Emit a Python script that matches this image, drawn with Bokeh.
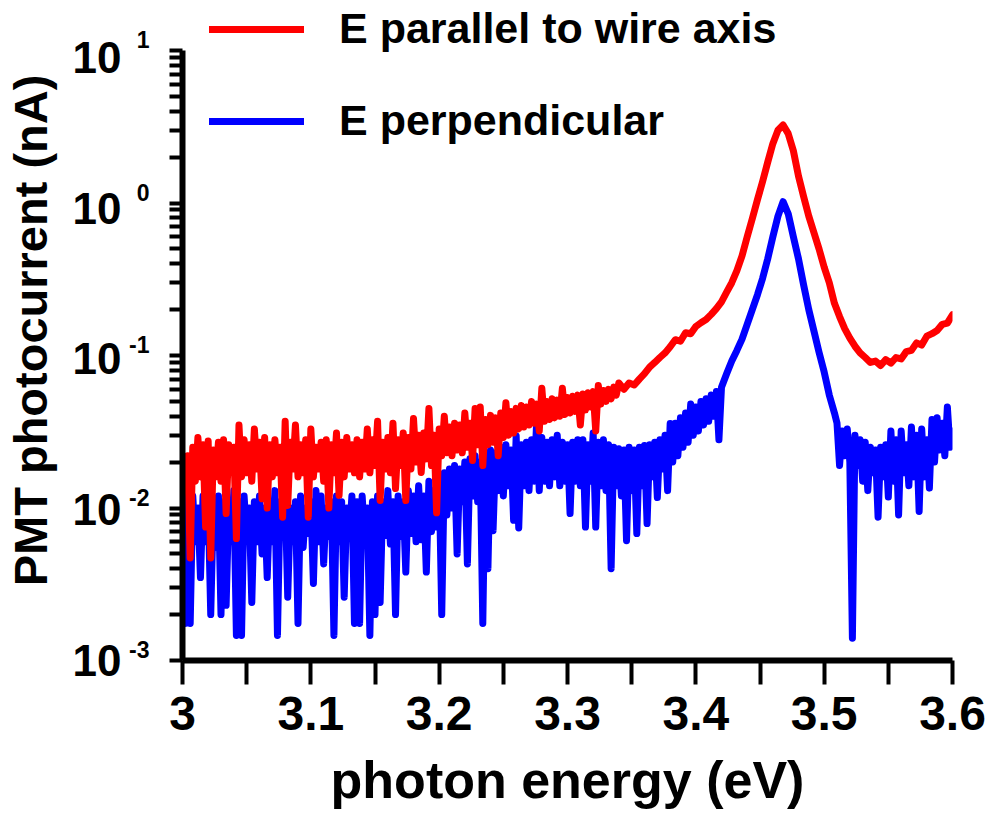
import numpy as np
from bokeh.plotting import figure
from bokeh.models import (Range1d, FixedTicker, CustomJSTickFormatter, Legend,
                          LegendItem, LogAxis, LogScale)
from bokeh.embed import file_html
from bokeh.resources import INLINE

# ---------------- data ----------------
# red: E parallel to wire axis
red_energy_a = np.round(3.0 + 0.002 * np.arange(171), 3)      # 3.000 .. 3.340
red_values_a = [
    0.016, 0.013, 0.022, 0.0047, 0.025, 0.015, 0.029, 0.016, 0.026, 0.0075,
    0.0275, 0.0047, 0.024, 0.016, 0.027, 0.015, 0.028, 0.0092, 0.026, 0.017,
    0.025, 0.0063, 0.035, 0.016, 0.028, 0.017, 0.026, 0.015, 0.033, 0.018,
    0.027, 0.0115, 0.029, 0.010, 0.026, 0.016, 0.028, 0.017, 0.025, 0.0087,
    0.037, 0.0104, 0.027, 0.018, 0.035, 0.016, 0.026, 0.017, 0.028, 0.0087,
    0.033, 0.016, 0.025, 0.018, 0.027, 0.015, 0.028, 0.010, 0.026, 0.017,
    0.031, 0.0121, 0.027, 0.016, 0.029, 0.018, 0.026, 0.017, 0.028, 0.016,
    0.027, 0.018, 0.033, 0.017, 0.028, 0.019, 0.037, 0.0112, 0.027, 0.018,
    0.029, 0.017, 0.036, 0.0134, 0.028, 0.019, 0.031, 0.0112, 0.029, 0.018,
    0.0386, 0.020, 0.030, 0.0171, 0.031, 0.021, 0.045, 0.019, 0.030, 0.0093,
    0.033, 0.022, 0.040, 0.023, 0.034, 0.022, 0.036, 0.024, 0.035, 0.023,
    0.042, 0.025, 0.036, 0.0205, 0.045, 0.026, 0.046, 0.019, 0.038, 0.026,
    0.0405, 0.027, 0.039, 0.022, 0.042, 0.029, 0.049, 0.030, 0.043, 0.031,
    0.045, 0.033, 0.047, 0.034, 0.046, 0.035, 0.050, 0.036, 0.048, 0.032,
    0.061, 0.037, 0.050, 0.038, 0.052, 0.039, 0.051, 0.040, 0.061, 0.041,
    0.053, 0.042, 0.054, 0.043, 0.055, 0.035, 0.056, 0.044, 0.057, 0.046,
    0.058, 0.032, 0.0636, 0.048, 0.059, 0.050, 0.060, 0.052, 0.062, 0.055,
    0.066,
]
red_energy_b = np.round(3.344 + 0.004 * np.arange(65), 3)     # 3.344 .. 3.600
red_values_b = [
    0.060, 0.066, 0.064, 0.070,
    0.076, 0.084, 0.090, 0.097, 0.104, 0.114, 0.127, 0.124, 0.141, 0.139,
    0.155, 0.164, 0.172, 0.186, 0.203, 0.225, 0.260, 0.300, 0.360, 0.450,
    0.60, 0.79, 1.05, 1.38, 1.85, 2.45, 3.0, 3.25, 2.85, 2.2,
    1.5, 1.1, 0.82, 0.64, 0.50, 0.38, 0.30, 0.22, 0.18, 0.15,
    0.13, 0.115, 0.104, 0.097, 0.090, 0.092, 0.086, 0.094, 0.089, 0.097,
    0.095, 0.106, 0.108, 0.121, 0.117, 0.134, 0.139, 0.146, 0.160, 0.163,
    0.185,
]

# blue: E perpendicular
blue_energy_a = np.round(3.0 + 0.002 * np.arange(211), 3)     # 3.000 .. 3.420
blue_values_a = [
    0.014, 0.00175, 0.011, 0.00175, 0.012, 0.006, 0.010, 0.0035, 0.012, 0.006,
    0.011, 0.002, 0.010, 0.0055, 0.012, 0.002, 0.011, 0.0023, 0.010, 0.006,
    0.013, 0.00146, 0.011, 0.00146, 0.012, 0.0065, 0.010, 0.0024, 0.011, 0.006,
    0.012, 0.005, 0.010, 0.0035, 0.011, 0.006, 0.013, 0.00146, 0.011, 0.0065,
    0.012, 0.0026, 0.010, 0.006, 0.011, 0.00175, 0.012, 0.0055, 0.010, 0.0068,
    0.011, 0.0032, 0.013, 0.006, 0.012, 0.0043, 0.010, 0.0065, 0.011, 0.00146,
    0.012, 0.006, 0.011, 0.0026, 0.010, 0.0065, 0.012, 0.00175, 0.011, 0.00175,
    0.012, 0.0062, 0.010, 0.00146, 0.011, 0.002, 0.012, 0.0024, 0.011, 0.0066,
    0.013, 0.0058, 0.011, 0.002, 0.012, 0.0065, 0.011, 0.0038, 0.013, 0.0068,
    0.012, 0.006, 0.014, 0.0062, 0.012, 0.0038, 0.015, 0.007, 0.013, 0.0075,
    0.016, 0.002, 0.017, 0.009, 0.018, 0.010, 0.019, 0.005, 0.018, 0.011,
    0.020, 0.0043, 0.021, 0.012, 0.022, 0.011, 0.020, 0.00175, 0.022, 0.004,
    0.024, 0.0071, 0.023, 0.013, 0.025, 0.012, 0.026, 0.014, 0.024, 0.0083,
    0.0298, 0.0074, 0.026, 0.014, 0.027, 0.013, 0.028, 0.015, 0.0375, 0.013,
    0.029, 0.015, 0.027, 0.014, 0.028, 0.016, 0.030, 0.014, 0.027, 0.015,
    0.026, 0.0092, 0.027, 0.015, 0.028, 0.014, 0.028, 0.0075, 0.026, 0.015,
    0.031, 0.0075, 0.027, 0.014, 0.028, 0.013, 0.026, 0.004, 0.025, 0.014,
    0.0245, 0.012, 0.024, 0.0061, 0.025, 0.013, 0.024, 0.0068, 0.025, 0.014,
    0.0257, 0.0079, 0.026, 0.016, 0.027, 0.0117, 0.028, 0.018, 0.030, 0.013,
    0.0358, 0.020, 0.036, 0.022, 0.039, 0.025, 0.042, 0.027, 0.048, 0.030,
    0.046, 0.032, 0.050, 0.035, 0.052, 0.037, 0.055, 0.040, 0.058, 0.028,
    0.062,
]
blue_energy_b = np.round(3.424 + 0.004 * np.arange(22), 3)    # 3.424 .. 3.508
blue_values_b = [
    0.076, 0.092, 0.108, 0.128,
    0.16, 0.20, 0.25, 0.32, 0.43, 0.60, 0.82, 1.02, 0.85, 0.60,
    0.43, 0.29, 0.20, 0.145, 0.105, 0.078, 0.055, 0.042,
]
blue_energy_c = np.round(3.51 + 0.002 * np.arange(46), 3)     # 3.510 .. 3.600
blue_values_c = [
    0.036, 0.019, 0.032, 0.022, 0.033, 0.020, 0.0014, 0.030, 0.019, 0.028,
    0.015, 0.027, 0.013, 0.025, 0.017, 0.024, 0.0087, 0.025, 0.016, 0.026,
    0.0118, 0.032, 0.015, 0.028, 0.009, 0.032, 0.017, 0.026, 0.014, 0.034,
    0.016, 0.030, 0.0095, 0.033, 0.016, 0.028, 0.0135, 0.038, 0.020, 0.039,
    0.024, 0.036, 0.022, 0.046, 0.025, 0.032,
]

red_energy = np.concatenate([red_energy_a, red_energy_b])
red_parallel = red_values_a + red_values_b
blue_energy = np.concatenate([blue_energy_a, blue_energy_b, blue_energy_c])
blue_perpendicular = blue_values_a + blue_values_b + blue_values_c

series_labels = ["E parallel to wire axis", "E perpendicular"]
x_major_ticks = [3.0, 3.1, 3.2, 3.3, 3.4, 3.5, 3.6]
x_minor_ticks = [3.05, 3.15, 3.25, 3.35, 3.45, 3.55]
y_exponents = [1, 0, -1, -2, -3]

FONT = "Liberation Sans"
FRAME_H = 660
PX_PER_DECADE = 152.5
Y_LO = 1e-3
Y_HI = 10 ** (-3 + FRAME_H / PX_PER_DECADE)   # room above 10^1 for the legend

p = figure(width=996, height=815,
           x_range=Range1d(3.0, 3.6), y_range=Range1d(Y_LO, Y_HI),
           y_axis_type="log",
           output_backend="svg", toolbar_location=None,
           min_border_left=178, min_border_right=44,
           min_border_top=0, min_border_bottom=155)
p.outline_line_color = None
p.grid.visible = False
p.background_fill_color = "white"
p.border_fill_color = "white"

rb = p.line(blue_energy, blue_perpendicular, line_color="#0000FF", line_width=7,
            line_cap="round", line_join="round")
rr = p.line(red_energy, red_parallel, line_color="#FF0000", line_width=7,
            line_cap="round", line_join="round")

legend = Legend(items=[LegendItem(label=series_labels[0], renderers=[rr]),
                       LegendItem(label=series_labels[1], renderers=[rb])],
                location=(27, 515), orientation="vertical",
                glyph_width=95, glyph_height=48, label_height=48,
                label_standoff=35, spacing=43, padding=0, margin=0,
                border_line_color=None, background_fill_alpha=0,
                label_text_font=FONT, label_text_font_style="bold",
                label_text_font_size="43px", label_text_color="black")
p.add_layout(legend)

# ---------------- x axis ----------------
xa = p.xaxis[0]
xa.ticker = FixedTicker(ticks=x_major_ticks, minor_ticks=x_minor_ticks)
xa.formatter = CustomJSTickFormatter(code="return String(Math.round(tick * 10) / 10);")
xa.axis_line_width = 6
xa.axis_line_color = "black"
xa.major_tick_line_width = 4
xa.minor_tick_line_width = 4
xa.major_tick_out = 24
xa.major_tick_in = 0
xa.minor_tick_out = 24
xa.minor_tick_in = 0
xa.major_label_text_font = FONT
xa.major_label_text_font_style = "bold"
xa.major_label_text_font_size = "48px"
xa.major_label_text_color = "black"
xa.major_label_standoff = 12
xa.axis_label = "photon energy (eV)"
xa.axis_label_text_font = FONT
xa.axis_label_text_font_style = "bold"
xa.axis_label_text_font_size = "52px"
xa.axis_label_text_color = "black"
xa.axis_label_standoff = 18

# ---------------- y axis (line + ticks) ----------------
decades = [10.0 ** k for k in y_exponents]
y_minor = [m * 10.0 ** k for k in y_exponents[1:] for m in range(2, 10)]
ya = p.yaxis[0]
ya.ticker = FixedTicker(ticks=decades, minor_ticks=y_minor)
ya.formatter = CustomJSTickFormatter(code="return '';")
ya.bounds = (Y_LO, 10.0)
ya.axis_line_width = 6
ya.axis_line_color = "black"
ya.major_tick_line_width = 4
ya.minor_tick_line_width = 4
ya.major_tick_out = 13
ya.major_tick_in = 0
ya.minor_tick_out = 13
ya.minor_tick_in = 0
ya.major_label_standoff = 0

# tick labels "10" with raised exponents: two label-only axes on offset ranges
f_exp = 10 ** (-11 / PX_PER_DECADE)          # exponent sits ~11 px above the tick
TEN_PX_PER_DECADE = PX_PER_DECADE - 7 / 4    # "10" sits 0..7 px below the tick
ten_lo_log = -3 - 0.02 / TEN_PX_PER_DECADE
p.extra_y_ranges = {
    "exp": Range1d(Y_LO * f_exp, Y_HI * f_exp),
    "ten": Range1d(10 ** ten_lo_log, 10 ** (ten_lo_log + FRAME_H / TEN_PX_PER_DECADE)),
}
p.extra_y_scales = {"exp": LogScale(), "ten": LogScale()}

exp_axis = LogAxis(y_range_name="exp",
                   ticker=FixedTicker(ticks=decades, minor_ticks=[]),
                   formatter=CustomJSTickFormatter(
                       code="return String(Math.round(Math.log10(tick)));"),
                   axis_line_color=None, major_tick_line_color=None,
                   minor_tick_line_color=None, major_tick_out=0, major_tick_in=0,
                   minor_tick_out=0, minor_tick_in=0,
                   major_label_standoff=20,
                   major_label_text_font=FONT, major_label_text_font_style="bold",
                   major_label_text_font_size="23px", major_label_text_color="black")
ten_axis = LogAxis(y_range_name="ten",
                   ticker=FixedTicker(ticks=decades, minor_ticks=[]),
                   formatter=CustomJSTickFormatter(code="return '10';"),
                   axis_line_color=None, major_tick_line_color=None,
                   minor_tick_line_color=None, major_tick_out=0, major_tick_in=0,
                   minor_tick_out=0, minor_tick_in=0,
                   major_label_standoff=5,
                   major_label_text_font=FONT, major_label_text_font_style="bold",
                   major_label_text_font_size="44px", major_label_text_color="black",
                   axis_label="PMT photocurrent (nA)", axis_label_standoff=13,
                   axis_label_text_font=FONT, axis_label_text_font_style="bold",
                   axis_label_text_font_size="47px", axis_label_text_color="black")
p.add_layout(exp_axis, "left")
p.add_layout(ten_axis, "left")

open("out.html", "w").write(file_html(p, INLINE))
